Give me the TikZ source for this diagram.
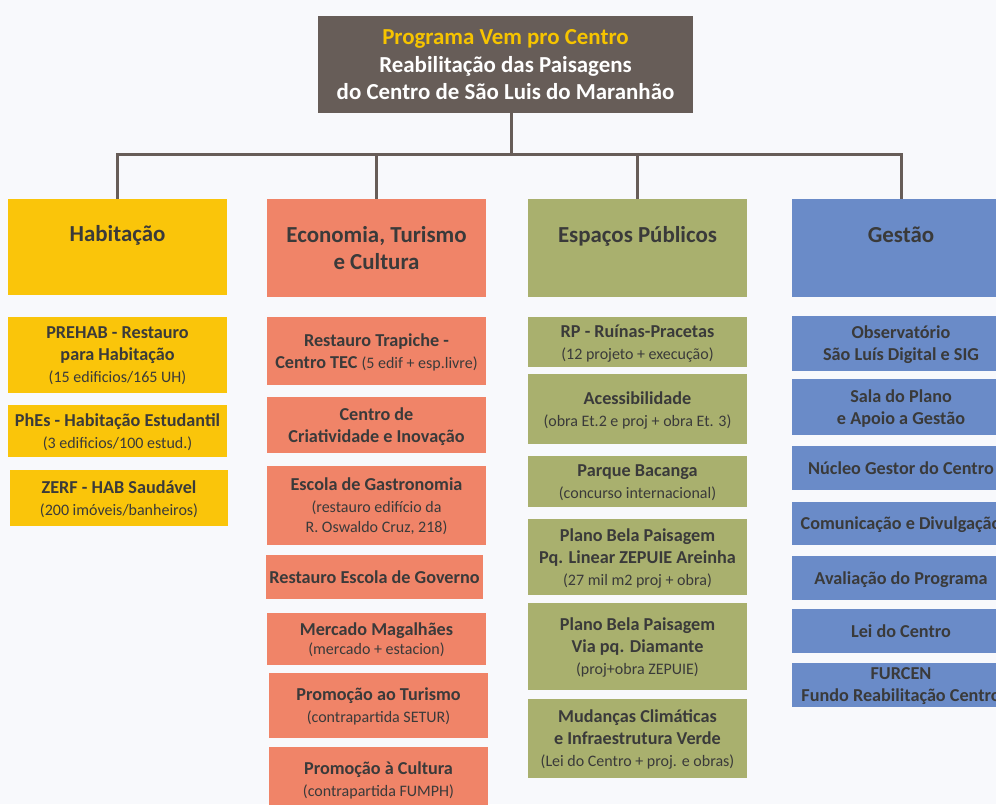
\documentclass[tikz,border=0pt]{standalone}
\usepackage{fontspec}
\setmainfont{Carlito}
\definecolor{fundo}{RGB}{248,249,252}
\definecolor{tronco}{RGB}{103,93,88}
\definecolor{ouro}{RGB}{246,196,0}
\definecolor{amarelo}{RGB}{250,197,10}
\definecolor{salmao}{RGB}{240,132,104}
\definecolor{oliva}{RGB}{169,176,110}
\definecolor{azul}{RGB}{106,139,200}
\definecolor{texto}{RGB}{58,58,58}
\usetikzlibrary{positioning, calc}

\newcommand{\sub}[1]{{\fontsize{16}{22}\selectfont\mdseries #1}}

\begin{document}
\begin{tikzpicture}[x=1pt, y=-1pt,
    caixa/.style = {rectangle, minimum width = 219pt, inner sep = 0pt, align = center, text = texto,
        text depth = 0pt, font = \fontsize{18.2}{22}\selectfont\bfseries},
    titulo/.style = {caixa, font = \fontsize{22.9}{27.5}\selectfont\bfseries},
    hab/.style = {fill = amarelo},
    eco/.style = {fill = salmao},
    esp/.style = {fill = oliva},
    ges/.style = {fill = azul},
    ligacao/.style = {draw = tronco, line width = 3pt}]
    \def \hx {117.5}
    \def \ex {376.5}
    \def \px {637.5}
    \def \gx {901}

    \path[use as bounding box, fill = fundo] (0,0) rectangle (996,804);
    \clip (0,0) rectangle (996,804);

    %% topo
    \node [titulo, fill = tronco, text = white, minimum width = 375pt, minimum height = 97pt] (prog) at (505.5,64.5)
        {\textcolor{ouro}{Programa Vem pro Centro}\\Reabilitação das Paisagens\\do Centro de São Luis do Maranhão};

    %% eixos
    \node [titulo, hab, minimum height = 96pt] (hab) at (\hx,247) {Habitação\\~};
    \node [titulo, eco, minimum height = 98pt] (eco) at (\ex,248) {Economia, Turismo\\e Cultura};
    \node [titulo, esp, minimum height = 98pt] (esp) at (\px,248) {Espaços Públicos\\~};
    \node [titulo, ges, minimum width = 218pt, minimum height = 98pt] (ges) at (\gx,248) {Gestão\\~};

    \coordinate (barra) at (511,154);
    \draw [ligacao] (prog.south -| barra) -- (barra);
    \foreach \e in {hab, eco, esp, ges}
    {
        \draw [ligacao] (\e.north) |- (barra);
    }

    %% Habitação
    \node [caixa, hab, minimum height = 76pt] (prehab) at (\hx,355) {PREHAB - Restauro\\para Habitação\\\sub{(15 edificios/165 UH)}};
    \node [caixa, hab, minimum height = 52pt] (phes) at (\hx,431) {PhEs - Habitação Estudantil\\\sub{(3 edificios/100 estud.)}};
    \node [caixa, hab, minimum width = 218pt, minimum height = 56pt] (zerf) at (119,498) {ZERF - HAB Saudável\\\sub{(200 imóveis/banheiros)}};

    %% Economia, Turismo e Cultura
    \node [caixa, eco, minimum height = 68pt] (trapiche) at (\ex,351) {Restauro Trapiche -\\Centro TEC \sub{(5 edif + esp.livre)}};
    \node [caixa, eco, minimum height = 56pt] (criativ) at (\ex,425) {Centro de\\Criatividade e Inovação};
    \node [caixa, eco, minimum height = 79pt] (gastro) at (\ex,505.5) {Escola de Gastronomia\\\sub{(restauro edifício da}\\[-2pt]\sub{R. Oswaldo Cruz, 218)}};
    \node [caixa, eco, minimum width = 217pt, minimum height = 44pt] (governo) at (374.5,577) {Restauro Escola de Governo};
    \node [caixa, eco, minimum height = 52pt] (mercado) at (\ex,639) {Mercado Magalhães\\[-3pt]\sub{(mercado + estacion)}};
    \node [caixa, eco, minimum height = 65pt] (turismo) at (378.5,705.5) {Promoção ao Turismo\\\sub{(contrapartida SETUR)}};
    \node [caixa, eco, minimum height = 65pt] (cultura) at (378.5,779.5) {Promoção à Cultura\\\sub{(contrapartida FUMPH)}};

    %% Espaços Públicos
    \node [caixa, esp, minimum height = 50pt] (rp) at (\px,342) {RP - Ruínas-Pracetas\\\sub{(12 projeto + execução)}};
    \node [caixa, esp, minimum height = 70pt] (acess) at (\px,409) {Acessibilidade\\\sub{(obra Et.2 e proj + obra Et. 3)}};
    \node [caixa, esp, minimum height = 51pt] (bacanga) at (\px,481.5) {Parque Bacanga\\\sub{(concurso internacional)}};
    \node [caixa, esp, minimum height = 76pt] (areinha) at (\px,557) {Plano Bela Paisagem\\Pq. Linear ZEPUIE Areinha\\\sub{(27 mil m2 proj + obra)}};
    \node [caixa, esp, minimum height = 87pt] (diamante) at (\px,646.5) {Plano Bela Paisagem\\Via pq. Diamante\\\sub{(proj+obra ZEPUIE)}};
    \node [caixa, esp, minimum height = 79pt] (clima) at (\px,738.5) {Mudanças Climáticas\\e Infraestrutura Verde\\\sub{(Lei do Centro + proj. e obras)}};

    %% Gestão
    \node [caixa, ges, minimum width = 218pt, minimum height = 55pt] (observ) at (\gx,343.5) {Observatório\\São Luís Digital e SIG};
    \node [caixa, ges, minimum width = 218pt, minimum height = 56pt] (sala) at (\gx,407) {Sala do Plano\\e Apoio a Gestão};
    \node [caixa, ges, minimum width = 218pt, minimum height = 44pt] (nucleo) at (\gx,468) {Núcleo Gestor do Centro};
    \node [caixa, ges, minimum width = 218pt, minimum height = 43pt] (comunic) at (\gx,523.5) {Comunicação e Divulgação};
    \node [caixa, ges, minimum width = 218pt, minimum height = 44pt] (avalia) at (\gx,578) {Avaliação do Programa};
    \node [caixa, ges, minimum width = 218pt, minimum height = 44pt] (lei) at (\gx,631) {Lei do Centro};
    \node [caixa, ges, minimum width = 218pt, minimum height = 44pt] (furcen) at (\gx,685) {FURCEN\\Fundo Reabilitação Centro};

\end{tikzpicture}
\end{document}
